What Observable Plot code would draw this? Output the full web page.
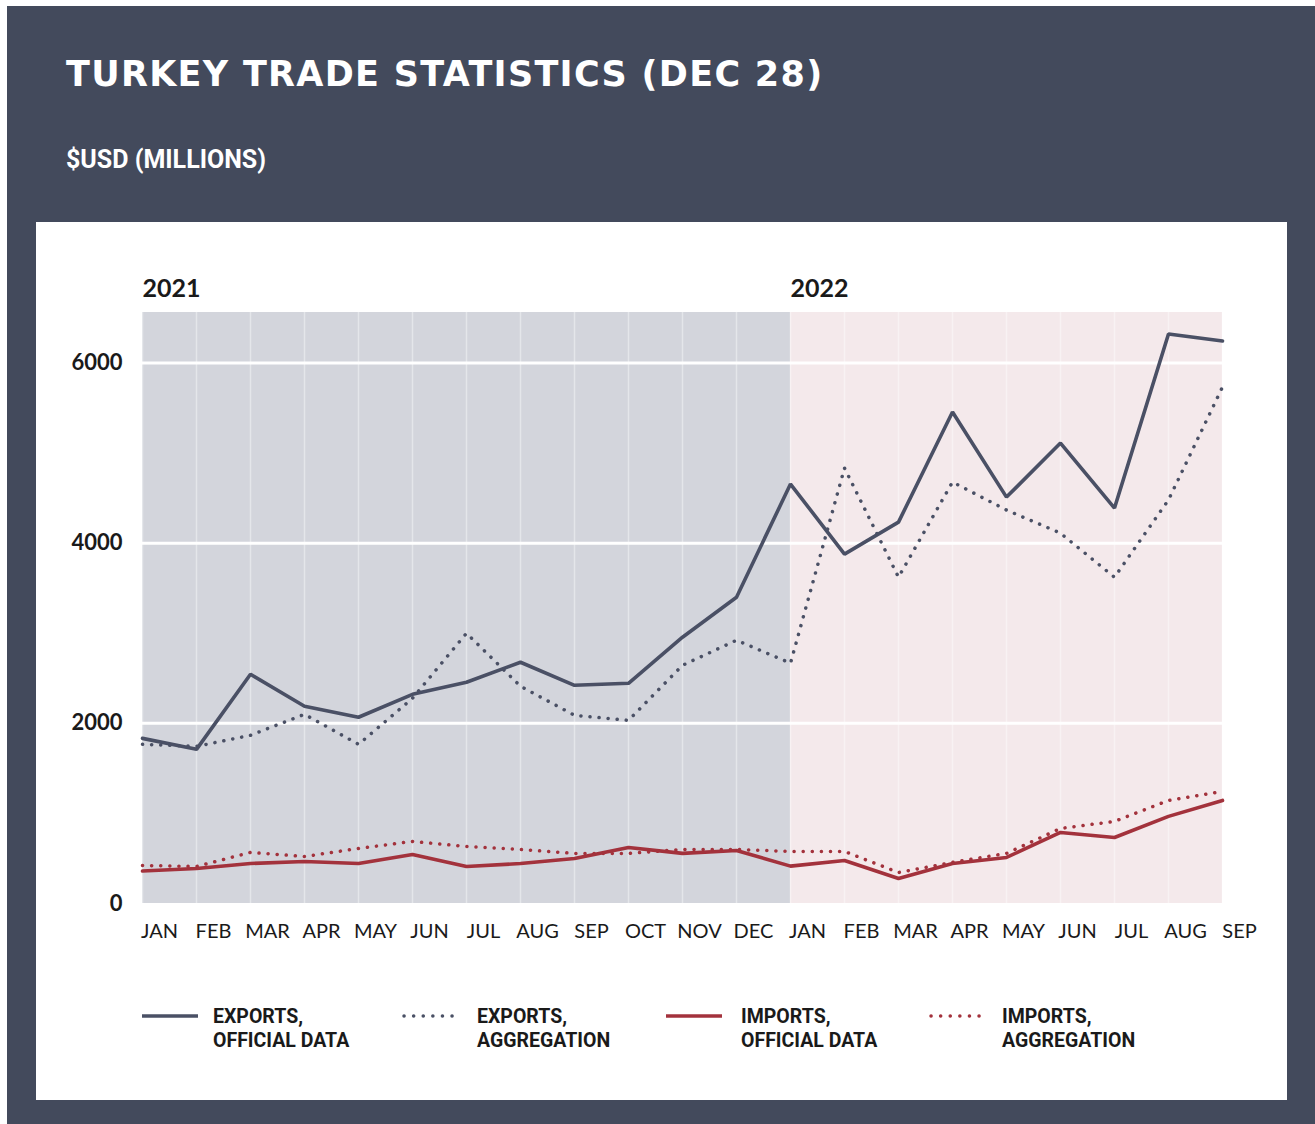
<!DOCTYPE html>
<html>
<head>
<meta charset="utf-8">
<script src="https://cdn.jsdelivr.net/npm/d3@7"></script>
<script src="https://cdn.jsdelivr.net/npm/@observablehq/plot@0.6"></script>
<style>
  html, body { margin: 0; padding: 0; background: #ffffff; }
  #page { position: relative; width: 1315px; height: 1124px; overflow: hidden; }
  #dark { position: absolute; left: 7px; top: 6px; width: 1308px; height: 1118px; background: #434a5c; }
  #title { position: absolute; left: 66px; top: 54px; margin: 0; color: #ffffff;
    font-family: "DejaVu Sans", sans-serif; font-weight: bold; font-size: 35px; letter-spacing: 1.3px; white-space: nowrap; }
  #subtitle { position: absolute; left: 66px; top: 145px; margin: 0; color: #ffffff;
    font-family: "Liberation Sans Narrow", "Roboto", sans-serif; font-weight: bold; font-size: 25px; white-space: nowrap; }
  #panel { position: absolute; left: 36px; top: 222px; width: 1251px; height: 878px; background: #ffffff; }
  #chart { position: absolute; left: 0; top: 0; }
  #legend { position: absolute; left: 0; top: 0; width: 1251px; height: 878px; pointer-events: none; }
  .item { position: absolute; top: 783px; display: flex; align-items: flex-start; }
  .item svg { margin-top: 4px; }
  .item span { font-family: "Liberation Sans Narrow", "Roboto", sans-serif; font-weight: bold;
    font-size: 19.5px; line-height: 24px; color: #1a1a1a; }
</style>
</head>
<body>
<div id="page">
  <div id="dark"></div>
  <div id="title">TURKEY TRADE STATISTICS (DEC 28)</div>
  <div id="subtitle">$USD (MILLIONS)</div>
  <div id="panel">
    <div id="chart"></div>
    <div id="legend"></div>
  </div>
</div>
<script>
// ---- data ----
const months = ["JAN","FEB","MAR","APR","MAY","JUN","JUL","AUG","SEP","OCT","NOV","DEC",
                "JAN","FEB","MAR","APR","MAY","JUN","JUL","AUG","SEP"];
const periodYears = ["2021", "2022"];
const periodStarts = [0, 12];      // index of first month of each year block
const periodEnds = [12, 20];       // index where each shaded block ends
const exportsOfficial = [1833,1711,2544,2189,2067,2322,2456,2678,2422,2444,2956,3400,
                         4656,3878,4233,5456,4511,5111,4389,6322,6244];
const exportsAggregation = [1767,1744,1867,2100,1767,2278,3000,2411,2089,2033,2644,2922,
                            2667,4833,3622,4678,4367,4111,3622,4480,5733];
const importsOfficial = [360,389,444,467,444,544,411,444,500,622,556,589,
                         415,478,278,444,511,789,733,967,1144];
const importsAggregation = [422,411,567,522,611,689,633,600,556,556,600,600,
                            578,578,344,456,556,833,911,1144,1244];
const yTicks = [0, 2000, 4000, 6000];
const yMax = 6560;
const seriesNames = ["EXPORTS, OFFICIAL DATA", "EXPORTS, AGGREGATION", "IMPORTS, OFFICIAL DATA", "IMPORTS, AGGREGATION"];

// ---- styles ----
const navy = "#4a5065";
const red = "#a3323c";
const periodFill = {"2021": "#d3d5dc", "2022": "#f4e9eb"};
const seriesStyle = {
  "EXPORTS, OFFICIAL DATA": {stroke: navy, dotted: false},
  "EXPORTS, AGGREGATION": {stroke: navy, dotted: true},
  "IMPORTS, OFFICIAL DATA": {stroke: red, dotted: false},
  "IMPORTS, AGGREGATION": {stroke: red, dotted: true}
};

// ---- tables ----
const idx = d3.range(months.length);
const periods = periodYears.map((y, k) => ({year: y, start: periodStarts[k], end: periodEnds[k]}));
const seriesValues = [exportsOfficial, exportsAggregation, importsOfficial, importsAggregation];
const seriesRows = seriesNames.map((name, k) => seriesValues[k].map((v, i) => ({i, v, name})));

const lineMark = (rows) => {
  const st = seriesStyle[rows[0].name];
  return st.dotted
    ? Plot.line(rows, {x: "i", y: "v", stroke: st.stroke, strokeWidth: 3.5, strokeLinecap: "round",
                       strokeDasharray: "0.1 9", curve: "linear"})
    : Plot.line(rows, {x: "i", y: "v", stroke: st.stroke, strokeWidth: 3.6, strokeLinejoin: "miter", curve: "linear"});
};

const chart = Plot.plot({
  width: 1251,
  height: 731,
  marginLeft: 106,
  marginRight: 65,
  marginTop: 90,
  marginBottom: 50,
  x: {type: "linear", domain: [0, months.length - 1]},
  y: {domain: [0, yMax]},
  style: {fontFamily: "Lato, 'Open Sans', sans-serif", background: "transparent", color: "#1a1a1a"},
  marks: [
    Plot.rect(periods, {x1: "start", x2: "end", fill: d => periodFill[d.year]}),
    Plot.ruleX(idx, {stroke: "#ffffff", strokeOpacity: 0.4, strokeWidth: 1.5}),
    Plot.ruleY(yTicks.filter(d => d > 0), {stroke: "#ffffff", strokeWidth: 3}),
    ...seriesRows.map(lineMark),
    Plot.axisY({ticks: yTicks, tickFormat: d => String(d), tickSize: 0, tickPadding: 20, fontSize: 22,
                fontWeight: "bold", label: null}),
    Plot.axisX({ticks: idx, tickFormat: i => months[i], tickSize: 0, tickPadding: 20, textAnchor: "middle",
                dx: 17, fontSize: 20, label: null}),
    Plot.text(periods, {x: "start", text: "year", frameAnchor: "top", lineAnchor: "middle", dy: -24,
                        textAnchor: "start", fontSize: 25, fontWeight: "bold", fill: "#1a1a1a"})
  ]
});
document.getElementById("chart").appendChild(chart);

// ---- legend ----
const legendLeft = [106, 365, 630, 892];
const legendGap = [15, 20, 19, 18];
const legend = document.getElementById("legend");
seriesNames.forEach((name, k) => {
  const st = seriesStyle[name];
  const item = document.createElement("div");
  item.className = "item";
  item.style.left = legendLeft[k] + "px";
  const dash = st.dotted ? 'stroke-dasharray="0.1 9.5" stroke-linecap="round" stroke-width="3.5"' : 'stroke-width="3.6"';
  item.innerHTML = `<svg width="56" height="14"><line x1="${st.dotted ? 3 : 0}" y1="7" x2="56" y2="7" stroke="${st.stroke}" ${dash}/></svg>` +
    `<span style="margin-left:${legendGap[k]}px">${name.split(", ")[0]},<br>${name.split(", ")[1]}</span>`;
  legend.appendChild(item);
});
</script>
</body>
</html>
